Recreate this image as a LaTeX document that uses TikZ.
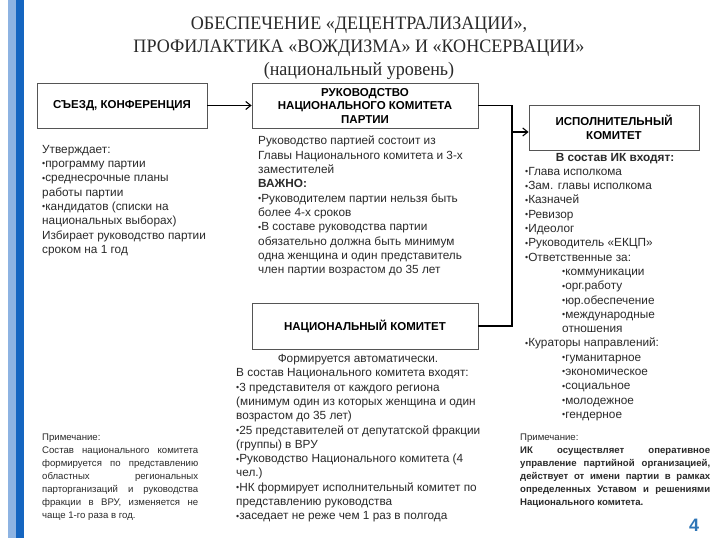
\documentclass[tikz,border=0pt]{standalone}
\usepackage{fontspec}
\usepackage{graphicx}
\setmainfont{Liberation Sans}
\newfontfamily\titlefont[FakeStretch=0.95]{Liberation Serif}
\usetikzlibrary{arrows.meta}
\definecolor{barlight}{HTML}{8DB3E2}
\definecolor{bardark}{HTML}{1565C0}
\definecolor{txt}{HTML}{2A2A2A}
\definecolor{boxline}{HTML}{555555}
\definecolor{numblue}{HTML}{2E75B6}
\newcommand\bltt{\raisebox{0.1ex}{\scalebox{0.75}{•}}}
\hyphenpenalty=10000
\tikzset{
 boxnode/.style={draw=boxline, line width=0.8pt, fill=white, align=center, text=black,
   font=\fontsize{11.5}{13.5}\selectfont\bfseries, inner sep=2pt},
 body/.style={anchor=north west, inner sep=0pt, align=left, text=txt,
   font=\fontsize{11.8}{14.3}\selectfont},
 conn/.style={line width=1.1pt, black},
 arr/.style={conn, -{Straight Barb[length=5pt,width=8pt]}},
 notehead/.style={anchor=north west, inner sep=0pt, align=left, text=txt,
   font=\fontsize{9.6}{13}\selectfont},
 notebody/.style={anchor=north west, inner sep=0pt, align=justify, text=txt,
   font=\fontsize{9.6}{13}\selectfont},
}
\begin{document}
\begin{tikzpicture}[x=1pt,y=-1pt]
\useasboundingbox (0,0) rectangle (718,538);
\fill[white] (0,0) rectangle (718,538);
\fill[barlight] (8,0) rectangle (16,538);
\fill[bardark] (16,0) rectangle (24,538);

\node[font=\titlefont\fontsize{19}{23}\selectfont, align=center, text=txt] (title) at (359,48)
 {ОБЕСПЕЧЕНИЕ «ДЕЦЕНТРАЛИЗАЦИИ»,\\ПРОФИЛАКТИКА «ВОЖДИЗМА» И «КОНСЕРВАЦИИ»\\(национальный уровень)};

\node[boxnode, minimum width=170pt, minimum height=45pt] (syezd) at (122,105.5) {СЪЕЗД, КОНФЕРЕНЦИЯ};
\node[boxnode, minimum width=226pt, minimum height=45pt] (ruk) at (365,105.5) {РУКОВОДСТВО\\НАЦИОНАЛЬНОГО КОМИТЕТА\\ПАРТИИ};
\node[boxnode, minimum width=170pt, minimum height=45pt] (ik) at (614,127.5) {ИСПОЛНИТЕЛЬНЫЙ\\КОМИТЕТ};
\node[boxnode, minimum width=226pt, minimum height=46pt] (nk) at (365,326) {НАЦИОНАЛЬНЫЙ КОМИТЕТ};

\coordinate (j1) at (512,105.5);
\coordinate (ikin) at (ik.west |- 0,132);
\draw[arr] (syezd.east) -- (ruk.west);
\draw[conn] (ruk.east) -- (j1) -- (j1 |- nk.east) -- (nk.east);
\draw[arr] (j1 |- ikin) -- (ikin);

\node[body] (syezdtxt) at (42,145) {Утверждает:\\
\bltt программу партии\\
\bltt среднесрочные планы\\
работы партии\\
\bltt кандидатов (списки на\\
национальных выборах)\\
Избирает руководство партии\\
сроком на 1 год};

\node[body] (ruktxt) at (258,136) {Руководство партией состоит из\\
Главы Национального комитета и 3-х\\
заместителей\\
\textbf{ВАЖНО:}\\
\bltt Руководителем партии нельзя быть\\
более 4-х сроков\\
\bltt В составе руководства партии\\
обязательно должна быть минимум\\
одна женщина и один представитель\\
член партии возрастом до 35 лет};

\node[anchor=north, inner sep=0pt, text=txt, font=\fontsize{11.8}{14.3}\selectfont\bfseries] (ikhead) at (615,153) {В состав ИК входят:};
\node[body] (iktxt) at (525,167) {\bltt Глава исполкома\\
\bltt Зам. главы исполкома\\
\bltt Казначей\\
\bltt Ревизор\\
\bltt Идеолог\\
\bltt Руководитель «ЕКЦП»\\
\bltt Ответственные за:\\
\hspace*{37pt}\bltt коммуникации\\
\hspace*{37pt}\bltt орг.работу\\
\hspace*{37pt}\bltt юр.обеспечение\\
\hspace*{37pt}\bltt международные\\
\hspace*{37pt}отношения\\
\bltt Кураторы направлений:\\
\hspace*{37pt}\bltt гуманитарное\\
\hspace*{37pt}\bltt экономическое\\
\hspace*{37pt}\bltt социальное\\
\hspace*{37pt}\bltt молодежное\\
\hspace*{37pt}\bltt гендерное};

\node[anchor=north, inner sep=0pt, text=txt, font=\fontsize{11.8}{14.3}\selectfont] (nkhead) at (358,354) {Формируется автоматически.};
\node[body] (nktxt) at (236,368.5) {В состав Национального комитета входят:\\
\bltt 3 представителя от каждого региона\\
(минимум один из которых женщина и один\\
возрастом до 35 лет)\\
\bltt 25 представителей от депутатской фракции\\
(группы) в ВРУ\\
\bltt Руководство Национального комитета (4\\
чел.)\\
\bltt НК формирует исполнительный комитет по\\
представлению руководства\\
\bltt заседает не реже чем 1 раз в полгода};

\node[notehead] (lnotehead) at (42,434) {Примечание:};
\node[notebody, text width=156pt] (lnote) at (42,447) {Состав национального комитета\linebreak
формируется по представлению\linebreak
областных региональных\linebreak
парторганизаций и руководства\linebreak
фракции в ВРУ, изменяется не\linebreak
чаще 1-го раза в год.};

\node[notehead] (rnotehead) at (520,434) {Примечание:};
\node[notebody, text width=190pt, font=\fontsize{9.6}{13}\selectfont\bfseries] (rnote) at (520,447) {ИК осуществляет оперативное\linebreak
управление партийной организацией,\linebreak
действует от имени партии в рамках\linebreak
определенных Уставом и решениями\linebreak
Национального комитета.};

\node[font=\bfseries\fontsize{18}{18}\selectfont, text=numblue] (pnum) at (694,525) {4};
\end{tikzpicture}
\end{document}
